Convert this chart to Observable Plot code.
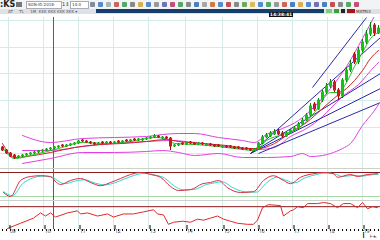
<!DOCTYPE html>
<html><head><meta charset="utf-8">
<script src="https://cdn.jsdelivr.net/npm/d3@7"></script>
<script src="https://cdn.jsdelivr.net/npm/@observablehq/plot@0.6"></script>
<style>
html,body{margin:0;padding:0;background:#fff;}
#wrap{position:relative;width:380px;height:240px;overflow:hidden;font-family:"DejaVu Sans",sans-serif;}
.panel{position:absolute;left:0;width:380px;overflow:hidden;}
.panel svg{display:block;overflow:hidden;}
#hdr1{position:absolute;left:0;top:0;width:380px;height:9px;background:#f1f3f5;}
#hdr2{position:absolute;left:0;top:9px;width:380px;height:5px;background:#dde2e6;}
#bar{position:absolute;left:96px;top:9px;width:228px;height:4px;background:#163f6e;}
#clock{position:absolute;left:269px;top:12px;width:24px;height:5px;background:#111;color:#fff;font-size:4.5px;line-height:5px;text-align:center;font-weight:bold;}
#ks{position:absolute;left:0;top:0;font-size:8px;line-height:9px;font-weight:bold;color:#222;}
#inp{position:absolute;left:26px;top:1px;width:33px;height:6px;background:#fff;border:1px solid #aab;font-size:4px;line-height:6px;color:#333;padding-left:1px;white-space:nowrap;overflow:hidden;}
#inp2{position:absolute;left:70px;top:1px;width:16px;height:6px;background:#fff;border:1px solid #aab;font-size:4px;line-height:6px;color:#333;padding-left:1px;}
#spin{position:absolute;left:62px;top:0;font-size:5px;line-height:9px;color:#333;}
#grid-ico{position:absolute;left:16px;top:2px;width:6px;height:5px;background:#777;}
#icons{position:absolute;left:90px;top:2px;display:flex;gap:3px;}
#icons span{display:block;width:5px;height:5px;border-radius:1px;opacity:0.85;}
#tabs{position:absolute;left:8px;top:9px;font-size:4px;color:#555;line-height:5px;white-space:nowrap;}
#boxes{position:absolute;left:326px;top:9px;display:flex;gap:2px;}
#boxes span{display:block;height:4px;}
#matrix{position:absolute;left:356px;top:9px;font-size:4px;color:#333;line-height:5px;}
</style></head>
<body>
<div id="wrap">
  <div id="hdr1"></div>
  <div id="hdr2"></div>
  <div id="bar"></div>
  <div id="ks">:KS</div>
  <div id="grid-ico"></div>
  <div id="inp">SGN-ID 2018-</div>
  <div id="spin">1↕</div>
  <div id="inp2">14:0</div>
  <div id="icons"></div>
  <div id="tabs">AT &nbsp; &nbsp; TL &nbsp; &nbsp; 1M &nbsp;KKK KKK KKK KKK ▾</div>
  <div id="boxes"><span style="width:6px;background:#7ad07a"></span><span style="width:5px;background:#3aa03a"></span><span style="width:4px;background:#222"></span><span style="width:8px;background:#a01818"></span></div>
  <div id="matrix">MATRIX</div>
  <div id="clock">14:38:41</div>
  <div class="panel" id="main" style="top:17px;height:151px;"></div>
  <div class="panel" id="stoch" style="top:168px;height:32px;border-top:1px solid #c9d3c9;box-sizing:border-box;"></div>
  <div class="panel" id="rsi" style="top:200px;height:40px;border-top:1px solid #c9d3c9;box-sizing:border-box;"></div>
</div>
<script>
// ---- candle data (price units) ----
const open  = [53,50,47,45,43,44,45,46,47,48,49,50,51,52,53,55,54,55,56,57,60,59,58,57,56,58,57,58,57,59,58,60,59,61,60,60,61,62,63,64,62,63,62,54,55,57,56,58,57,56,57,55,56,55,55,53,54,54,53,53,52,52,51,50,51,57,63,64,66,69,67,64,67,70,72,76,80,85,96,91,100,108,114,118,110,104,120,130,146,138,150,158,166,175,167];
const close = [50,47,44,43,44,45,46,47,48,49,50,51,52,53,54,54,55,56,57,59,59,58,57,56,57,57,58,57,58,58,59,59,60,60,61,61,62,63,64,63,63,62,54,55,56,56,57,57,56,57,56,56,55,54,54,54,53,53,52,52,51,51,50,51,57,63,65,67,68,66,64,67,70,72,76,80,85,94,91,100,108,114,118,110,104,120,130,136,138,150,158,166,172,167,172];
const high  = [54,51,48,46,45,46,47,48,49,50,51,52,53,54,55,56,56,57,58,60,61,60,59,58,58,59,59,59,59,60,60,61,61,62,62,62,63,64,66,65,64,64,63,56,57,58,58,59,58,58,58,57,57,56,56,55,55,55,54,54,53,53,52,52,58,65,67,69,71,71,69,68,71,74,78,82,87,97,98,102,110,117,121,120,112,122,133,140,148,153,161,170,178,177,175];
const low   = [49,46,43,41,42,43,44,45,46,47,48,49,50,51,52,53,53,54,55,56,58,57,56,55,55,56,56,56,56,57,57,58,58,59,59,59,60,61,62,62,61,61,50,53,54,55,55,56,55,55,55,54,54,53,53,52,52,52,51,51,50,50,49,49,50,56,62,63,65,65,62,63,66,69,71,75,79,84,89,90,98,106,112,108,100,102,118,128,136,136,148,156,164,164,166];

// ---- indicator series: [candle index, value] ----
const maFast  = [[0,53],[3,42],[8,46],[14,52],[20,58],[26,57],[32,59],[38,63],[41,62],[43,57],[48,56],[54,54],[60,51],[63,50],[66,60],[70,66],[74,72],[78,88],[82,108],[84,108],[86,118],[88,134],[90,148],[92,162],[94,168]];
const maSlow  = [[0,57],[3,43],[6,44],[12,48],[18,53],[24,56],[30,57],[36,59],[41,61],[44,59],[50,57],[56,55],[62,52],[64,52],[68,57],[72,68],[76,78],[80,92],[84,106],[86,112],[88,120],[90,130],[92,142],[94,150]];
const bbUpper = [[5,65],[12,58],[20,62],[28,63],[36,64],[40,66],[44,67],[48,67],[54,63],[60,60],[63,58],[66,66],[70,72],[74,80],[78,94],[82,112],[86,134],[90,162],[94,192]];
const bbMid   = [[5,50],[12,50],[20,54],[28,57],[36,59],[42,60],[48,58],[54,55],[60,52],[64,51],[68,53],[72,64],[76,72],[80,84],[82,92],[85,104],[89,116],[93,134],[94,138]];
const bbLower = [[5,37],[12,42],[20,48],[28,48],[36,49],[40,50],[44,48],[48,45],[54,47],[60,43],[66,43],[72,44],[75,47],[77,44],[80,45],[82,47],[85,52],[87,57],[90,75],[93,90],[94,96]];
const trendLines = [
  {x1:62, y1:47, x2:94.5, y2:163},
  {x1:62, y1:47, x2:94.5, y2:127},
  {x1:62, y1:47, x2:94.5, y2:112},
  {x1:64, y1:47, x2:94.5, y2:98},
  {x1:77.5, y1:113, x2:91, y2:183}
];
const stochK = [[0.25,30],[2,20],[4.5,60],[7,70],[9.5,72],[12,70],[13.5,55],[14.5,50],[17,60],[19.5,65],[22,55],[24.5,47],[27,55],[29.5,65],[32,75],[34.5,80],[37,75],[39.5,68],[42,45],[44,35],[47,37],[50,52],[52,55],[54,60],[56.25,42],[59.5,30],[62.75,32],[65.25,60],[67.75,72],[70.25,60],[72,52],[74.5,68],[77.75,77],[80.25,80],[82.75,77],[83.75,68],[87,75],[88.75,70],[91.25,75],[93.75,77]];
const stochD = [[0.25,32],[2.5,22],[5,52],[7.5,66],[10,71],[12.5,68],[14,58],[15.5,52],[18,58],[20.5,62],[23,54],[25.5,49],[28,54],[30.5,64],[33,73],[35.5,78],[38,74],[40.5,66],[43,46],[45,37],[48,38],[51,50],[53,54],[55,57],[57.25,44],[60.5,32],[63.5,31],[66,54],[68.5,68],[71,60],[73,54],[75.5,66],[78.5,75],[81,79],[83.5,75],[85,70],[88,73],[90,71],[92,74],[94,76]];
const rsi = [[1.25,28],[4.5,38],[7.75,48],[9.5,58],[10.75,52],[12,58],[13.25,50],[16.25,58],[18.75,62],[19.5,56],[21.25,58],[23.75,52],[26.25,56],[27.75,50],[30.25,56],[32.75,56],[35.25,60],[37.75,64],[38.75,56],[40.25,54],[41.5,36],[42.75,40],[45,42],[47,40],[48.75,46],[50.25,44],[52,48],[53.75,52],[55.25,46],[57,42],[58.75,38],[61.25,36],[62.75,36],[63.75,44],[65,68],[66.5,74],[69.5,72],[70.25,52],[72,62],[72.75,64],[73.75,70],[75.25,68],[76.25,76],[78.75,76],[80.25,78],[82,76],[83.75,68],[85.25,76],[87,76],[88.75,68],[90,78],[91.25,66],[92.5,70],[93.75,68]];
const stochLevels = [80, 20];
const rsiLevel = [70];
const gridPrices = [47, 73, 100, 127, 153, 180];
const dateIdx = [1.5, 10.25, 19, 27.75, 36.5, 45.75, 55, 63.75, 72.5, 81.25, 90];
const dateLabels = ["09","10","11","12","13","14","15","16","17","18","19"];
const cursorIdx = [12.75];
const toolbarIconColors = ["#6a7a8a","#3a78c8","#9aa","#c84a3a","#3a9a4a","#777","#d8a030","#3a78c8","#888","#5a5aa8","#c03060","#3a9a4a","#777","#2a6ab8","#999","#d06020","#3a78c8","#c03030","#777","#5a9a3a","#d8b030","#3a78c8","#3a9a4a","#888","#c84a3a","#2a6ab8","#d8a030","#3a78c8","#5a5aa8","#2a6ab8","#c03030","#777","#3a9a4a","#c03060"];

// toolbar icons (chrome, not chart data)
const icons = document.getElementById("icons");
toolbarIconColors.forEach(c => { const s = document.createElement("span"); s.style.background = c; icons.appendChild(s); });

const candles = open.map((o, i) => ({i, open: o, close: close[i], high: high[i], low: low[i]}));
const up = d => d.close >= d.open;
const GREEN = "#12c412", RED = "#cc1a1a", MAG = "#e040e0", NAVY = "#2a2aa8", GRID = "#d6eaea", CURSOR = "#a528b8";
const xScale = {domain: [-0.5, 94.5], range: [0, 380], axis: null};
const pts = a => a.map(([i, v]) => ({i, v}));

const main = Plot.plot({
  width: 380, height: 151, margin: 0,
  x: xScale,
  y: {domain: [32, 183], axis: null},
  marks: [
    Plot.ruleY(gridPrices, {stroke: GRID, strokeWidth: 1}),
    Plot.ruleX(dateIdx, {stroke: GRID, strokeWidth: 1}),
    Plot.ruleX(cursorIdx, {stroke: CURSOR, strokeWidth: 1}),
    Plot.line(pts(bbUpper), {x: "i", y: "v", stroke: MAG, strokeWidth: 1, curve: "monotone-x", clip: true}),
    Plot.line(pts(bbMid), {x: "i", y: "v", stroke: MAG, strokeWidth: 1, curve: "monotone-x", clip: true}),
    Plot.line(pts(bbLower), {x: "i", y: "v", stroke: MAG, strokeWidth: 1, curve: "monotone-x", clip: true}),
    Plot.link(trendLines, {x1: "x1", y1: "y1", x2: "x2", y2: "y2", stroke: NAVY, strokeWidth: 1, clip: true}),
    Plot.line(pts(maSlow), {x: "i", y: "v", stroke: "#d42020", strokeWidth: 1, curve: "monotone-x", clip: true}),
    Plot.line(pts(maFast), {x: "i", y: "v", stroke: "#1fbf1f", strokeWidth: 1, curve: "monotone-x", clip: true}),
    Plot.ruleX(candles, {x: "i", y1: "low", y2: "high", stroke: d => up(d) ? "#0a7a0a" : "#8a1010", strokeWidth: 1, clip: true}),
    Plot.ruleX(candles, {x: "i", y1: d => Math.min(d.open, d.close) - 0.4, y2: d => Math.max(d.open, d.close) + 0.4, stroke: d => up(d) ? GREEN : RED, strokeWidth: 3, clip: true})
  ]
});
document.getElementById("main").appendChild(main);

const stoch = Plot.plot({
  width: 380, height: 31, margin: 0,
  x: xScale,
  y: {domain: [10, 90], range: [31, -1], axis: null},
  marks: [
    Plot.ruleX(dateIdx, {stroke: GRID}),
    Plot.ruleY([stochLevels[0]], {stroke: "#8b1a1a", strokeWidth: 1}),
    Plot.ruleY([stochLevels[1]], {stroke: "#a8d8a8", strokeWidth: 1}),
    Plot.ruleX(cursorIdx, {stroke: CURSOR}),
    Plot.line(pts(stochD), {x: "i", y: "v", stroke: "#30d8d0", strokeWidth: 1, curve: "monotone-x"}),
    Plot.line(pts(stochK), {x: "i", y: "v", stroke: "#d83040", strokeWidth: 1, curve: "monotone-x"})
  ]
});
document.getElementById("stoch").appendChild(stoch);

const rsiPlot = Plot.plot({
  width: 380, height: 39, marginTop: 0, marginLeft: 0, marginRight: 0, marginBottom: 11,
  x: xScale,
  y: {domain: [26, 80], axis: null},
  marks: [
    Plot.ruleX(dateIdx, {stroke: GRID}),
    Plot.ruleY(rsiLevel, {stroke: "#8b1a1a", strokeWidth: 1}),
    Plot.ruleX(cursorIdx, {stroke: CURSOR}),
    Plot.line(pts(rsi), {x: "i", y: "v", stroke: "#e02828", strokeWidth: 1}),
    Plot.axisX(d3.range(0, 95), {anchor: "bottom", tickSize: 2, tickFormat: () => "", stroke: "#000", strokeWidth: 1}),
    Plot.axisX(dateIdx, {anchor: "bottom", tickSize: 4, tickPadding: 0, tickFormat: (d, k) => dateLabels[k], textAnchor: "start", dx: 1.5, dy: -4, fontSize: 5, fill: "#444"})
  ]
});
document.getElementById("rsi").appendChild(rsiPlot);
</script>
</body></html>
